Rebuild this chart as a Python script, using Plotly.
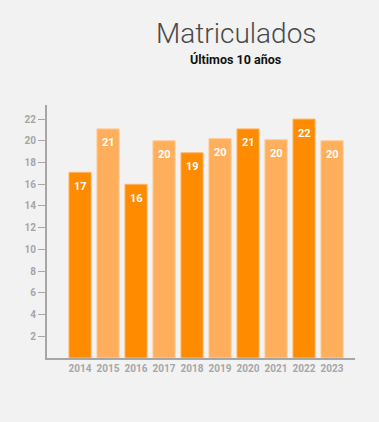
import plotly.graph_objects as go

years = ["2014", "2015", "2016", "2017", "2018", "2019", "2020", "2021", "2022", "2023"]
values = [17.1, 21.1, 16.0, 20.0, 18.9, 20.2, 21.1, 20.1, 22.0, 20.0]
labels = ["17", "21", "16", "20", "19", "20", "21", "20", "22", "20"]
y_ticks = [2, 4, 6, 8, 10, 12, 14, 16, 18, 20, 22]

dark = "#FF8C00"
light = "#FFAF5B"
colors = [dark if i % 2 == 0 else light for i in range(len(years))]
outline = ["#FFB566" if i % 2 == 0 else "#FFC990" for i in range(len(years))]

fig = go.Figure(go.Bar(
    x=years, y=values,
    marker=dict(color=colors, line=dict(color=outline, width=1)),
    hoverinfo="skip",
))

W, H = 379, 422
L, R, T, B = 47, 24, 105, 64
pw = W - L - R
ph = H - T - B

def px2paper(px, py):
    return (px - L) / pw, (H - B - py) / ph

annos = []
tx, ty = px2paper(236, 33)
annos.append(dict(text="Matriculados", x=tx, y=ty, xref="paper", yref="paper",
                  xanchor="center", yanchor="middle", showarrow=False,
                  font=dict(family="Roboto Light, Roboto", size=28, color="#4a4a4a", weight=300)))
sx, sy = px2paper(235, 60)
annos.append(dict(text="<b>Últimos 10 años</b>", x=sx, y=sy, xref="paper", yref="paper",
                  xanchor="center", yanchor="middle", showarrow=False,
                  font=dict(family="Roboto", size=12.5, color="#111")))
for i, (v, lab) in enumerate(zip(values, labels)):
    annos.append(dict(text="<b>" + lab + "</b>", x=i, y=v, xref="x", yref="y",
                      yanchor="middle", yshift=-14, showarrow=False,
                      font=dict(family="Roboto", size=11, color="white")))

fig.update_layout(
    width=W, height=H,
    paper_bgcolor="#F2F2F2", plot_bgcolor="#F2F2F2",
    margin=dict(l=L, r=R, t=T, b=B),
    bargap=0.21,
    showlegend=False,
    font=dict(family="Roboto"),
    annotations=annos,
)

fig.update_xaxes(
    type="category", range=[-1.18, 9.82],
    showline=True, linecolor="#A6A6A6", linewidth=2,
    ticks="", showgrid=False,
    tickfont=dict(family="Roboto", size=10, color="#A6A6A6", weight="bold"),
)
fig.update_yaxes(
    range=[0, 23.3], tickvals=y_ticks,
    showline=True, linecolor="#A6A6A6", linewidth=2,
    ticks="outside", ticklen=7, tickcolor="#A6A6A6", tickwidth=1,
    showgrid=False, zeroline=False,
    tickfont=dict(family="Roboto", size=10, color="#A6A6A6", weight="bold"),
)

fig.write_html("out.html", config={"displayModeBar": False},
               post_script="document.body.style.margin='0';document.body.style.background='#F2F2F2';")
